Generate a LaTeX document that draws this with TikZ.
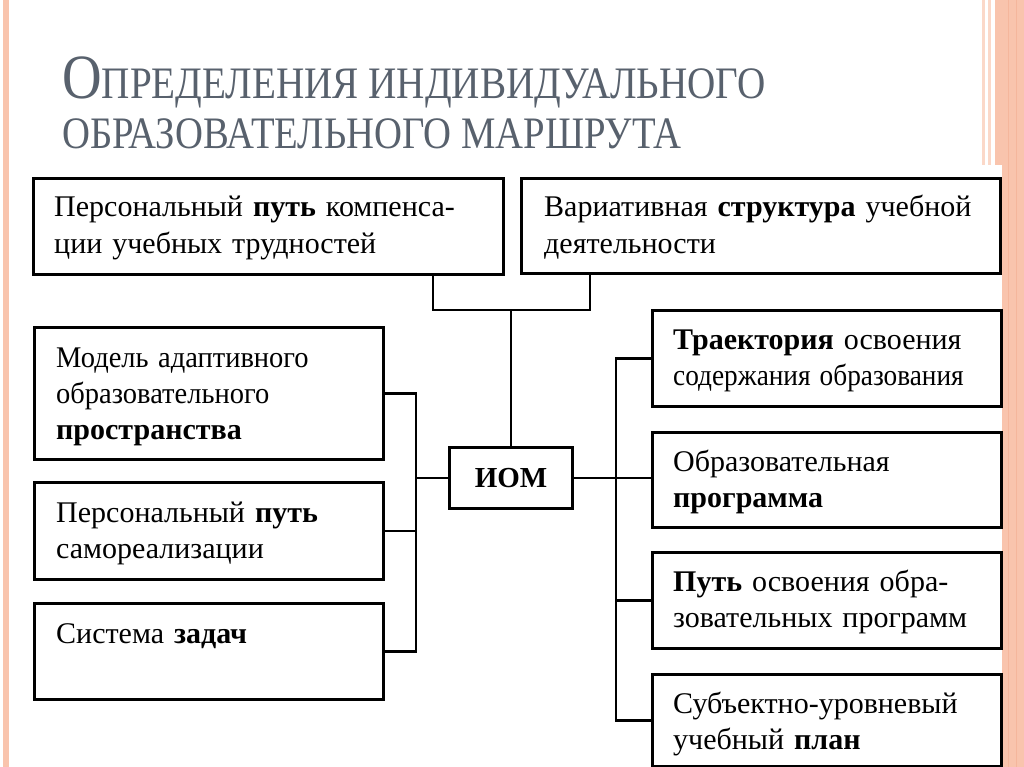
\documentclass[tikz,border=0pt]{standalone}
\usepackage{fontspec}
\usepackage{graphicx}
\setmainfont{Liberation Serif}
\usetikzlibrary{positioning}
\definecolor{salmon}{HTML}{F9C4AD}
\definecolor{salmonlt}{HTML}{FBD8C8}
\definecolor{salmondk}{HTML}{F5B69C}
\definecolor{titlegray}{HTML}{58616D}

\tikzset{
  box/.style={draw, line width=2.8pt, anchor=north west, inner sep=0pt},
  txt/.style={anchor=base west, align=left, inner sep=0pt, text width=470pt,
    font=\fontsize{30}{36}\selectfont},
  link/.style={line width=2.8pt},
}

\begin{document}
\begin{tikzpicture}[x=1pt,y=-1pt]
  \useasboundingbox (0,0) rectangle (1024,767);
  \fill[white] (0,0) rectangle (1024,767);

  % slide border stripes
  \fill[salmon] (3,0) rectangle (9,767);
  \fill[salmonlt] (982,0) rectangle (985,165);
  \fill[salmonlt] (988,0) rectangle (991,165);
  \fill[salmon] (995,0) rectangle (1024,165);
  \fill[salmon] (1002,165) rectangle (1024,767);
  \foreach \x in {1008,1016} {
    \draw[salmondk, line width=1pt] (\x,0) -- (\x,767);
  }

  % title
  \node[anchor=base west, inner sep=0pt, text=titlegray] (title1) at (62,99)
    {\scalebox{0.87}[1]{\fontsize{63}{63}\selectfont О\fontsize{45}{45}\selectfont ПРЕДЕЛЕНИЯ ИНДИВИДУАЛЬНОГО}};
  \node[anchor=base west, inner sep=0pt, text=titlegray] (title2) at (62,149)
    {\scalebox{0.86}[1]{\fontsize{45}{45}\selectfont ОБРАЗОВАТЕЛЬНОГО МАРШРУТА}};

  % boxes
  \node[box, minimum width=470, minimum height=96] (tl) at (32,177) {};
  \node[box, minimum width=479, minimum height=95] (tr) at (520,177) {};
  \node[box, minimum width=349, minimum height=132] (l1) at (33,326) {};
  \node[box, minimum width=349, minimum height=97] (l2) at (33,481) {};
  \node[box, minimum width=349, minimum height=96] (l3) at (33,602) {};
  \node[box, minimum width=349, minimum height=96] (r1) at (651,309) {};
  \node[box, minimum width=349, minimum height=95] (r2) at (651,431) {};
  \node[box, minimum width=349, minimum height=96] (r3) at (651,551) {};
  \node[box, minimum width=349, minimum height=92] (r4) at (651,673) {};
  \node[box, anchor=center, minimum width=123, minimum height=61,
    font=\fontsize{29}{29}\selectfont\bfseries] (iom) at (511,478) {ИОМ};

  % texts
  \node[txt] (tltext) at ([shift={(22,40)}]tl.north west)
    {Персональный \textbf{путь} компенса-\\ции учебных трудностей};
  \node[txt] (trtext) at ([shift={(24,40)}]tr.north west)
    {Вариативная \textbf{структура} учебной\\деятельности};
  \node[txt] (l1text) at ([shift={(23,41)}]l1.north west)
    {\scalebox{0.95}[1]{Модель адаптивного}\\\scalebox{0.95}[1]{образовательного}\\\textbf{пространства}};
  \node[txt] (l2text) at ([shift={(23,41)}]l2.north west)
    {Персональный \textbf{путь}\\самореализации};
  \node[txt] (l3text) at ([shift={(23,41)}]l3.north west)
    {Система \textbf{задач}};
  \node[txt] (r1text) at ([shift={(22,40)}]r1.north west)
    {\textbf{Траектория} освоения\\\scalebox{0.91}[1]{содержания образования}};
  \node[txt] (r2text) at ([shift={(22,40)}]r2.north west)
    {Образовательная\\\textbf{программа}};
  \node[txt] (r3text) at ([shift={(22,40)}]r3.north west)
    {\textbf{Путь} освоения обра-\\зовательных программ};
  \node[txt] (r4text) at ([shift={(22,40)}]r4.north west)
    {Субъектно-уровневый\\учебный \textbf{план}};

  % connectors
  \coordinate (tljoin) at (433,310);
  \coordinate (trjoin) at (590,310);
  \coordinate (lbus) at (416,0);
  \coordinate (rbus) at (616,0);

  \draw[link] (tl.south -| tljoin) -- (tljoin) -- (trjoin) -- (tr.south -| trjoin);
  \draw[link] (iom.north) -- (iom.north |- tljoin);

  \draw[link] (l1.east) -- (l1.east -| lbus) -- (l3.east -| lbus) -- (l3.east);
  \draw[link] (l2.east) -- (l2.east -| lbus);
  \draw[link] (iom.west) -- (iom.west -| lbus);

  \draw[link] (r1.west) -- (r1.west -| rbus) -- (r4.west -| rbus) -- (r4.west);
  \draw[link] (iom.east) -- (iom.east -| r2.west);
  \draw[link] (r3.west -| rbus) -- (r3.west);
\end{tikzpicture}
\end{document}
